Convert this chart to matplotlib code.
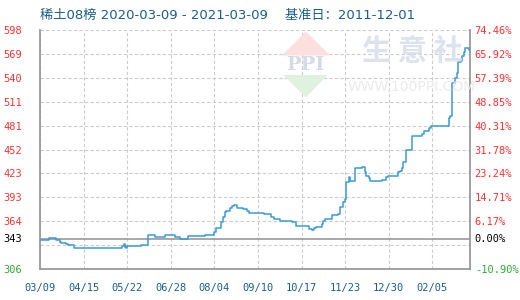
import matplotlib
matplotlib.use("Agg")
import matplotlib.pyplot as plt
import numpy as np
import pandas as pd
from matplotlib.patches import Polygon

plt.rcParams['font.family'] = ['Noto Sans CJK SC', 'DejaVu Sans']

# index steps: day offset from 2020-03-09 and value
step_days = [0, 8, 14, 17, 18, 22, 24, 29, 63, 70, 71, 72, 73, 74, 86, 92, 98, 106,
             115, 119, 126, 140, 148, 149, 154, 155, 157, 158, 161, 163, 165, 167,
             168, 172, 176, 177, 190, 196, 199, 204, 214, 217, 228, 231, 233, 234,
             239, 240, 242, 248, 253, 255, 257, 259, 260, 262, 263, 267, 273, 276,
             277, 279, 280, 290, 294, 295, 304, 306, 307, 308, 311, 316, 324, 326,
             330, 332, 347, 348, 350, 352, 354, 355, 357, 358, 360, 361, 364, 365]
step_vals = [342, 344, 342, 339, 338, 336.5, 335, 331.5, 332, 334, 336.5, 333, 331.5,
             334.5, 335.5, 348, 345, 348, 345, 343, 346, 347.5, 351, 356, 363, 369,
             375.5, 377, 380, 383, 384, 380.5, 380, 379, 376.5, 375, 373.5, 369.5,
             367, 364.5, 363, 358.5, 355, 353.5, 356, 357.5, 361, 365, 367.5, 371.5,
             373.5, 381.5, 387.5, 392, 412, 418, 414, 429, 430.5, 424.5, 420, 417.5,
             413.5, 414.5, 418, 419.5, 424.5, 426, 429, 436.5, 452, 469, 471, 475,
             478, 481, 491, 493, 533, 539, 545, 558.5, 560.5, 566.5, 571, 575.5,
             573, 573]

base_value = 343
y_ticks = [598, 568.8, 539.6, 510.4, 481.2, 452, 422.8, 393.6, 364.4, 335.2, 306]
y_labels = ['598', '569', '540', '511', '481', '452', '423', '393', '364', '', '306']
pct_labels = ['74.46%', '65.92%', '57.39%', '48.85%', '40.31%', '31.78%', '23.24%',
              '14.71%', '6.17%', '', '-10.90%']
x_tick_labels = ['03/09', '04/15', '05/22', '06/28', '08/04', '09/10', '10/17',
                 '11/23', '12/30', '02/05']

start = pd.Timestamp('2020-03-09')
dates = [start + pd.Timedelta(days=d) for d in step_days]
x_ticks = [start + pd.Timedelta(days=37 * i) for i in range(len(x_tick_labels))]

red = '#ff3333'
green = '#33aa33'
navy = '#1a5e8e'

fig = plt.figure(figsize=(5.2, 3.0), dpi=100)
ax = fig.add_axes([40 / 520, 1 - 269 / 300, 430 / 520, 239 / 300])

# watermark (logo + site name)
fig.patches.append(Polygon([[0.542, 0.815], [0.635, 0.815], [0.588, 0.895]], closed=True,
                           transform=fig.transFigure, facecolor='#fbe0de', zorder=0))
fig.patches.append(Polygon([[0.545, 0.75], [0.630, 0.75], [0.588, 0.675]], closed=True,
                           transform=fig.transFigure, facecolor='#dff2df', zorder=0))
fig.text(0.588, 0.783, 'PPI', fontsize=14, color='#d3dae8', ha='center', va='center',
         family=['DejaVu Serif'], fontweight='bold', zorder=0)
fig.text(0.793, 0.83, '生 意 社', fontsize=21, color='#dce2ee', ha='center', va='center',
         family=['Noto Sans CJK SC'], fontweight='bold', zorder=0)
fig.text(0.792, 0.71, 'WWW.100PPI.COM', fontsize=10, color='#ebebeb', ha='center',
         va='center', family=['DejaVu Sans'], zorder=0)
ax.set_facecolor('none')

ax.plot(dates, step_vals, drawstyle='steps-post', color='#3a9ad9', lw=1.1, zorder=3)
ax.axhline(base_value, color='#999999', lw=1.2, zorder=2)

ax.set_xlim(start, start + pd.Timedelta(days=365))
ax.set_ylim(306, 598)
ax.set_yticks(y_ticks)
ax.set_yticklabels(y_labels)
ax.set_xticks(x_ticks)
ax.set_xticklabels(x_tick_labels)
ax.grid(True, color='#cccccc', ls=(0, (3, 2)), lw=0.8)

for s in ['left', 'right', 'bottom']:
    ax.spines[s].set_color('#999999')
    ax.spines[s].set_linewidth(1.3)
ax.spines['top'].set_visible(False)

ax.tick_params(axis='both', length=0)
ax.tick_params(axis='y', pad=13)
ax.tick_params(axis='x', pad=10, colors=navy)
for lab in ax.get_yticklabels():
    lab.set_family('DejaVu Sans Mono')
    lab.set_fontsize(7.5)
    lab.set_color(red)
for lab in ax.get_xticklabels():
    lab.set_family('DejaVu Sans Mono')
    lab.set_fontsize(7.5)
ax.get_yticklabels()[-1].set_color(green)

# base value label
ax.text(-18 / 430, base_value, '343', transform=ax.get_yaxis_transform(), color='black',
        fontsize=7.5, family='DejaVu Sans Mono', va='center', ha='right')

ax2 = ax.twinx()
ax2.set_ylim(ax.get_ylim())
ax2.set_yticks(y_ticks)
ax2.set_yticklabels(pct_labels)
ax2.tick_params(axis='y', length=0, pad=3.4)
for s in ax2.spines.values():
    s.set_visible(False)
for lab in ax2.get_yticklabels():
    lab.set_family('DejaVu Sans Mono')
    lab.set_fontsize(7.5)
    lab.set_color(red)
ax2.get_yticklabels()[-1].set_color(green)
ax2.text(1 + 4.7 / 430, base_value, '0.00%', transform=ax2.get_yaxis_transform(),
         color='black', fontsize=7.5, family='DejaVu Sans Mono', va='center', ha='left')

fig.text(40 / 520, 1 - 15 / 300, '稀土08榜 2020-03-09 - 2021-03-09    基准日：2011-12-01',
         fontsize=9.5, color=navy, ha='left', va='center',
         family=['DejaVu Sans', 'Noto Sans CJK SC'])

fig.savefig('out.png', dpi=100)
